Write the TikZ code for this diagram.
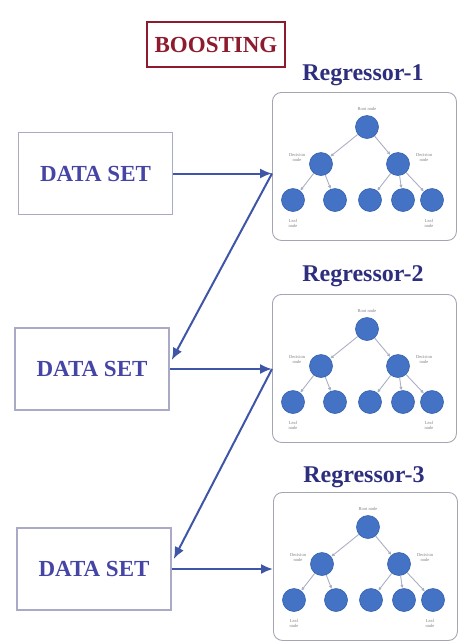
\documentclass[tikz,border=0pt]{standalone}
\usepackage{fontspec}
\setmainfont{Liberation Serif}
\usetikzlibrary{arrows.meta,calc}

\definecolor{setblue}{HTML}{4545A6}
\definecolor{titleblue}{HTML}{2E2E7E}
\definecolor{boostred}{HTML}{8E1A2E}
\definecolor{boxgray}{HTML}{A9ABC6}
\definecolor{treegray}{HTML}{A4A6B4}
\definecolor{nodeblue}{HTML}{4472C4}
\definecolor{nodeedge}{HTML}{3461B0}
\definecolor{edgegray}{HTML}{A9B0C4}
\definecolor{flowblue}{HTML}{3E55A8}

\tikzset{
	dsbox/.style={draw=boxgray, line width=1.5pt, minimum width=154pt, minimum height=82pt,
		font=\bfseries\fontsize{23}{26}\selectfont, text=setblue},
	title/.style={font=\bfseries\fontsize{24}{28}\selectfont, text=titleblue},
	treebox/.style={draw=treegray, line width=0.9pt, rounded corners=9pt, anchor=north west,
		minimum width=184pt, minimum height=148pt},
	tnode/.style={circle, fill=nodeblue, draw=nodeedge, line width=0.6pt, minimum size=23pt, inner sep=0pt},
	tlabel/.style={font=\fontsize{4.5}{5}\selectfont, text=gray, align=center},
	tedge/.style={draw=edgegray, line width=0.9pt, -{Latex[length=3.5pt,width=3.5pt]}},
	flow/.style={draw=flowblue, line width=2pt, -{Latex[length=12pt,width=10pt]}},
	regtree/.pic={
		\node[tnode] (-root) at (95,35) {};
		\node[tnode] (-decl) at (49,72) {};
		\node[tnode] (-decr) at (126,72) {};
		\node[tnode] (-leafa) at (21,108) {};
		\node[tnode] (-leafb) at (63,108) {};
		\node[tnode] (-leafc) at (98,108) {};
		\node[tnode] (-leafd) at (131,108) {};
		\node[tnode] (-leafe) at (160,108) {};
		\node[tlabel] (-rootlbl) at (95,17) {Root node};
		\node[tlabel] (-decllbl) at (25,66) {Decision\\node};
		\node[tlabel] (-decrlbl) at (152,66) {Decision\\node};
		\node[tlabel] (-leafalbl) at (21,131) {Leaf\\node};
		\node[tlabel] (-leafelbl) at (157,131) {Leaf\\node};
		\draw[tedge] (-root) -- (-decl);
		\draw[tedge] (-root) -- (-decr);
		\draw[tedge] (-decl) -- (-leafa);
		\draw[tedge] (-decl) -- (-leafb);
		\draw[tedge] (-decr) -- (-leafc);
		\draw[tedge] (-decr) -- (-leafd);
		\draw[tedge] (-decr) -- (-leafe);
	}
}

\begin{document}
\begin{tikzpicture}[x=1pt,y=-1pt]
	\useasboundingbox (0,0) rectangle (459,641);
	% heading
	\node[draw=boostred, line width=1.8pt, minimum width=138pt, minimum height=45pt,
		font=\bfseries\fontsize{23}{26}\selectfont, text=boostred] (boost) at (216,44.5) {BOOSTING};
	% data sets
	\node[dsbox] (ds1) at (95.5,173.5) {DATA SET};
	\node[dsbox] (ds2) at (92,369) {DATA SET};
	\node[dsbox] (ds3) at (94,569) {DATA SET};
	% regressors
	\node[title] (r1) at (363,75) {Regressor-1};
	\node[title] (r2) at (363,276) {Regressor-2};
	\node[title] (r3) at (364,477) {Regressor-3};
	\node[treebox] (tb1) at (272,92) {};
	\node[treebox] (tb2) at (272,294) {};
	\node[treebox] (tb3) at (273,492) {};
	\pic (t1) at (272,92) {regtree};
	\pic (t2) at (272,294) {regtree};
	\pic (t3) at (273,492) {regtree};
	% flow
	\draw[flow] (ds1.east) -- (ds1.east -| tb1.west);
	\draw[flow] (ds1.east -| tb1.west) -- ($(ds2.east)+(2,-9)$);
	\draw[flow] (ds2.east) -- (ds2.east -| tb2.west);
	\draw[flow] (ds2.east -| tb2.west) -- ($(ds3.east)+(2,-10)$);
	\draw[flow] (ds3.east) -- (ds3.east -| tb3.west);
\end{tikzpicture}
\end{document}
